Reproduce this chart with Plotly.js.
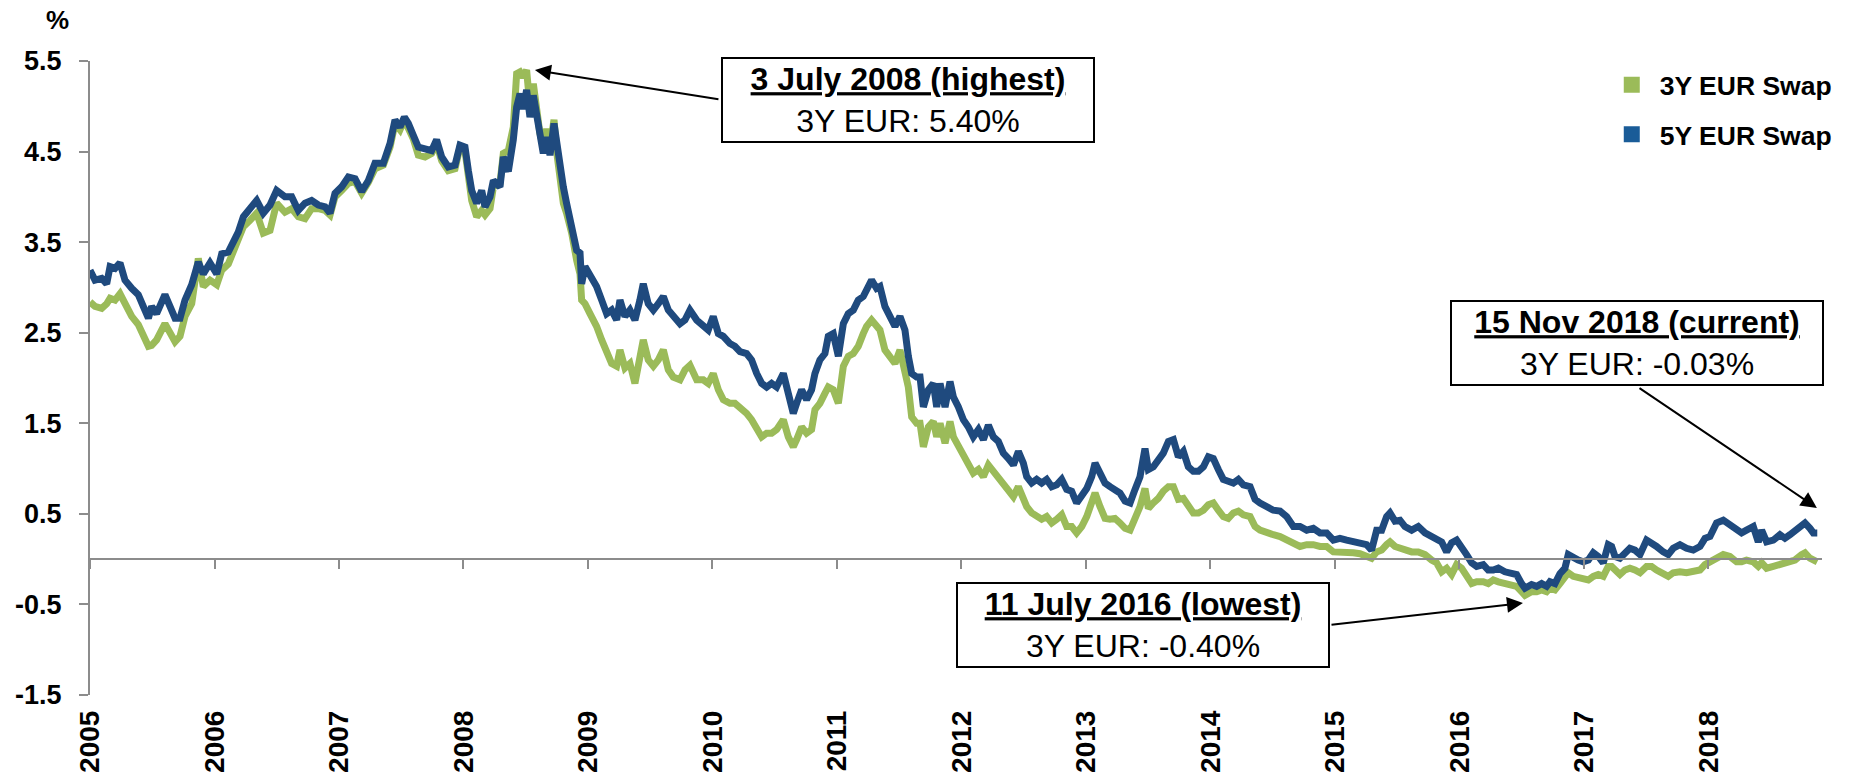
<!DOCTYPE html>
<html>
<head>
<meta charset="utf-8">
<script src="https://cdn.plot.ly/plotly-3.0.1.min.js"></script>
<style>html,body{margin:0;padding:0;background:#fff;}#chart{width:1854px;height:782px;}</style>
</head>
<body>
<div id="chart"></div>
<script>
// decimal-year positions of the readings
const years = [
2005.000,2005.040,2005.094,2005.134,2005.161,2005.201,2005.241,2005.281,2005.335,2005.388,2005.428,2005.469,2005.495,2005.535,2005.602,2005.643,2005.683,2005.723,2005.763,2005.817,2005.870,2005.910,2005.964,
2006.018,2006.058,2006.111,2006.151,2006.191,2006.232,2006.285,2006.339,2006.392,2006.446,2006.499,2006.566,2006.620,2006.673,2006.727,2006.780,2006.834,2006.888,2006.928,2006.968,
2007.021,2007.075,2007.129,2007.182,2007.236,2007.289,2007.356,2007.410,2007.450,2007.490,2007.525,2007.557,2007.597,2007.637,2007.691,2007.744,2007.784,2007.825,2007.878,2007.932,2007.972,
2008.012,2008.039,2008.066,2008.106,2008.146,2008.173,2008.213,2008.240,2008.293,2008.320,2008.360,2008.400,2008.427,2008.454,2008.480,2008.507,2008.534,2008.561,2008.588,2008.614,2008.641,2008.668,2008.695,2008.727,2008.754,2008.775,2008.802,2008.828,2008.869,2008.909,2008.936,2008.949,2008.976,
2009.016,2009.069,2009.110,2009.150,2009.190,2009.230,2009.257,2009.297,2009.337,2009.377,2009.417,2009.444,2009.484,2009.525,2009.565,2009.605,2009.645,2009.685,2009.739,2009.779,2009.819,2009.873,2009.926,2009.966,
2010.006,2010.047,2010.087,2010.140,2010.180,2010.221,2010.274,2010.314,2010.355,2010.395,2010.435,2010.475,2010.515,2010.569,2010.609,2010.649,2010.676,2010.716,2010.756,2010.796,2010.823,2010.863,2010.903,2010.930,2010.970,
2011.011,2011.051,2011.091,2011.131,2011.171,2011.211,2011.238,2011.278,2011.318,2011.345,2011.385,2011.425,2011.466,2011.506,2011.546,2011.573,2011.600,2011.640,2011.667,2011.694,2011.734,2011.774,2011.801,2011.828,2011.868,2011.908,2011.935,2011.975,
2012.015,2012.055,2012.095,2012.136,2012.176,2012.216,2012.256,2012.296,2012.336,2012.377,2012.417,2012.457,2012.497,2012.524,2012.564,2012.604,2012.644,2012.684,2012.725,2012.765,2012.805,2012.845,2012.885,2012.925,2012.966,
2013.006,2013.046,2013.073,2013.113,2013.153,2013.193,2013.233,2013.273,2013.314,2013.354,2013.394,2013.434,2013.474,2013.501,2013.541,2013.581,2013.621,2013.662,2013.702,2013.742,2013.782,2013.822,2013.862,2013.903,2013.943,2013.983,
2014.023,2014.063,2014.103,2014.143,2014.184,2014.224,2014.264,2014.318,2014.358,2014.398,2014.451,2014.505,2014.559,2014.612,2014.666,2014.719,2014.773,2014.826,2014.880,2014.933,2014.987,
2015.040,2015.094,2015.147,2015.201,2015.254,2015.294,2015.335,2015.375,2015.415,2015.442,2015.482,2015.522,2015.562,2015.616,2015.669,2015.723,2015.776,2015.816,2015.857,2015.897,2015.937,2015.977,
2016.017,2016.057,2016.098,2016.138,2016.191,2016.231,2016.272,2016.312,2016.365,2016.419,2016.459,2016.499,2016.526,2016.579,2016.620,2016.660,2016.700,2016.727,2016.767,2016.807,2016.847,2016.874,2016.914,2016.954,2016.994,
2017.035,2017.075,2017.115,2017.155,2017.195,2017.222,2017.249,2017.289,2017.329,2017.369,2017.409,2017.450,2017.503,2017.543,2017.583,2017.637,2017.677,2017.717,2017.771,2017.824,2017.878,2017.932,2017.972,
2018.012,2018.065,2018.119,2018.172,2018.226,2018.266,2018.306,2018.360,2018.400,2018.427,2018.467,2018.521,2018.574,2018.614,2018.655,2018.695,2018.748,2018.775,2018.815,2018.842,2018.874
];

// 5Y EUR Swap (%)
const swap5y = [
3.19,3.08,3.10,3.04,3.23,3.21,3.27,3.08,2.99,2.92,2.79,2.66,2.79,2.71,2.92,2.79,2.66,2.66,2.86,3.03,3.28,3.15,3.27,
3.15,3.37,3.39,3.49,3.61,3.78,3.87,3.96,3.82,3.91,4.07,4.00,4.00,3.85,3.93,3.96,3.91,3.89,3.82,4.04,
4.11,4.22,4.20,4.06,4.18,4.37,4.37,4.59,4.85,4.77,4.88,4.81,4.68,4.55,4.53,4.51,4.63,4.44,4.33,4.35,4.57,
4.55,4.29,4.07,3.93,4.07,3.89,4.00,4.18,4.11,4.44,4.28,4.63,4.99,5.14,4.97,5.18,4.88,5.12,4.88,4.63,4.48,4.66,4.46,4.81,4.51,4.33,4.11,3.93,3.67,3.41,3.38,3.04,3.23,
3.15,3.01,2.86,2.71,2.75,2.64,2.86,2.68,2.75,2.64,2.86,3.04,2.82,2.75,2.82,2.90,2.75,2.68,2.60,2.64,2.75,2.64,2.57,2.53,
2.68,2.49,2.46,2.38,2.35,2.29,2.27,2.20,2.05,1.94,1.90,1.94,1.90,2.05,1.83,1.61,1.72,1.87,1.76,1.87,2.05,2.20,2.27,2.46,2.49,
2.24,2.60,2.71,2.75,2.86,2.90,2.97,3.08,2.99,3.01,2.79,2.68,2.57,2.68,2.53,2.24,2.05,2.01,2.01,1.68,1.87,1.94,1.68,1.94,1.68,1.96,1.79,1.68,
1.54,1.46,1.35,1.43,1.32,1.48,1.35,1.30,1.17,1.11,1.04,1.19,1.06,0.91,0.84,0.88,0.84,0.88,0.80,0.82,0.88,0.77,0.75,0.62,0.69,
0.78,0.91,1.06,0.95,0.84,0.80,0.77,0.73,0.64,0.62,0.77,0.91,1.22,0.99,1.02,1.10,1.17,1.30,1.32,1.13,1.19,1.02,0.97,0.97,1.02,1.13,
1.11,0.99,0.88,0.86,0.84,0.88,0.82,0.80,0.66,0.62,0.58,0.54,0.53,0.47,0.36,0.36,0.32,0.34,0.29,0.29,0.21,
0.23,0.21,0.19,0.18,0.16,0.10,0.32,0.32,0.47,0.51,0.42,0.43,0.36,0.32,0.36,0.29,0.25,0.23,0.19,0.08,0.18,0.21,
0.14,0.05,-0.04,-0.08,-0.06,-0.12,-0.12,-0.10,-0.14,-0.16,-0.17,-0.27,-0.32,-0.28,-0.30,-0.27,-0.30,-0.25,-0.27,-0.16,-0.10,0.05,0.01,-0.01,-0.03,
-0.01,0.07,0.03,-0.04,0.16,0.14,0.03,0.01,0.08,0.12,0.10,0.05,0.21,0.18,0.14,0.08,0.05,0.12,0.16,0.12,0.10,0.14,0.23,
0.25,0.40,0.43,0.38,0.32,0.29,0.32,0.36,0.19,0.32,0.19,0.21,0.27,0.23,0.27,0.32,0.38,0.40,0.34,0.29,0.29
];

// 3Y EUR Swap (%)
const swap3y = [
2.84,2.79,2.77,2.82,2.88,2.86,2.93,2.82,2.68,2.59,2.49,2.35,2.36,2.42,2.60,2.49,2.40,2.46,2.68,2.82,3.32,3.01,3.08,
3.03,3.19,3.26,3.41,3.52,3.67,3.74,3.82,3.60,3.63,3.93,3.83,3.87,3.78,3.76,3.87,3.87,3.85,3.80,4.00,
4.07,4.15,4.17,4.04,4.16,4.31,4.35,4.55,4.81,4.74,4.85,4.77,4.64,4.46,4.44,4.48,4.59,4.40,4.29,4.31,4.55,
4.51,4.22,3.96,3.78,3.85,3.80,3.87,4.11,4.15,4.48,4.51,4.77,5.36,5.38,5.32,5.40,4.99,5.25,4.96,4.70,4.55,4.75,4.55,4.85,4.44,4.22,3.93,3.82,3.60,3.30,3.15,2.86,2.82,
2.71,2.57,2.42,2.27,2.16,2.13,2.31,2.11,2.16,1.94,2.20,2.42,2.20,2.13,2.20,2.31,2.09,2.01,1.98,2.09,2.14,1.98,1.98,1.94,
2.05,1.87,1.76,1.72,1.72,1.68,1.61,1.54,1.43,1.35,1.39,1.39,1.43,1.54,1.35,1.24,1.32,1.46,1.39,1.43,1.65,1.72,1.83,1.90,1.87,
1.72,2.13,2.24,2.27,2.35,2.49,2.57,2.64,2.57,2.53,2.31,2.24,2.16,2.31,2.05,1.90,1.57,1.50,1.50,1.24,1.46,1.52,1.35,1.50,1.28,1.52,1.35,1.24,
1.13,1.06,0.95,0.99,0.91,1.04,0.97,0.91,0.82,0.77,0.69,0.80,0.66,0.58,0.51,0.47,0.44,0.47,0.40,0.44,0.49,0.36,0.36,0.29,0.36,
0.47,0.62,0.73,0.58,0.45,0.44,0.45,0.40,0.34,0.32,0.44,0.58,0.78,0.56,0.62,0.67,0.75,0.80,0.80,0.66,0.67,0.58,0.51,0.51,0.54,0.60,
0.62,0.54,0.47,0.45,0.51,0.53,0.49,0.47,0.36,0.32,0.29,0.27,0.25,0.21,0.16,0.14,0.16,0.16,0.14,0.14,0.08,
0.08,0.08,0.07,0.06,0.04,0.01,0.08,0.10,0.16,0.19,0.14,0.12,0.10,0.08,0.08,0.05,-0.01,-0.04,-0.14,-0.10,-0.17,-0.06,
-0.10,-0.19,-0.27,-0.25,-0.25,-0.27,-0.23,-0.25,-0.27,-0.28,-0.30,-0.36,-0.40,-0.36,-0.36,-0.34,-0.36,-0.32,-0.34,-0.27,-0.21,-0.15,-0.19,-0.21,-0.21,
-0.23,-0.19,-0.17,-0.19,-0.08,-0.08,-0.12,-0.17,-0.12,-0.10,-0.12,-0.15,-0.08,-0.08,-0.12,-0.15,-0.19,-0.15,-0.14,-0.15,-0.14,-0.12,-0.06,
-0.03,0.03,0.05,0.03,-0.03,-0.03,-0.01,-0.03,-0.08,-0.04,-0.10,-0.08,-0.06,-0.06,-0.03,-0.01,0.05,0.07,0.01,-0.01,-0.03
];

const seriesNames = ['3Y EUR Swap', '5Y EUR Swap'];
const yearTicks = [2005,2006,2007,2008,2009,2010,2011,2012,2013,2014,2015,2016,2017,2018];
const yearLabels = ['2005','2006','2007','2008','2009','2010','2011','2012','2013','2014','2015','2016','2017','2018'];
const yTickVals = [5.5,4.5,3.5,2.5,1.5,0.5,-0.5,-1.5];
const yTickLabels = ['5.5','4.5','3.5','2.5','1.5','0.5','-0.5','-1.5'];

// callouts: box text, box centre (year, value), arrow tail (year, value), arrow tip (year, value)
const callouts = [
  {title:'3 July 2008 (highest)', line:'3Y EUR: 5.40%', bx:2011.570, by:5.066, tx:2010.06, ty:5.074, hx:2008.574, hy:5.40},
  {title:'15 Nov 2018 (current)', line:'3Y EUR: -0.03%', bx:2017.426, by:2.386, tx:2017.434, ty:1.90, hx:2018.871, hy:0.566},
  {title:'11 July 2016 (lowest)', line:'3Y EUR: -0.40%', bx:2013.458, by:-0.725, tx:2014.960, ty:-0.725, hx:2016.510, hy:-0.485}
];

const FONT = 'Liberation Sans, Arial, Helvetica, sans-serif';
const GREEN = '#9BBB59';
const BLUE = '#1F4A7E';
const BLUE_LEG = '#1A5C98';
const AXIS = '#8C8C8C';
const xRange = [2005, 2018.912];

const traces = [
  {x: years, y: swap3y, type:'scatter', mode:'lines', name: seriesNames[0], showlegend:false,
   legendgroup:'a', line:{color:GREEN, width:7}, hoverinfo:'x+y'},
  {x: years, y: swap5y, type:'scatter', mode:'lines', name: seriesNames[1], showlegend:false,
   legendgroup:'b', line:{color:BLUE, width:7}, hoverinfo:'x+y'},
  {x:[null], y:[null], type:'scatter', mode:'markers', name: seriesNames[0], legendgroup:'a',
   marker:{symbol:'square', size:16, color:GREEN}},
  {x:[null], y:[null], type:'scatter', mode:'markers', name: seriesNames[1], legendgroup:'b',
   marker:{symbol:'square', size:16, color:BLUE_LEG}},
  {x:[xRange[0]], y:[null], xaxis:'x2', type:'scatter', mode:'markers', showlegend:false, hoverinfo:'skip'}
];

const annotations = [];
callouts.forEach(c => {
  annotations.push({
    xref:'x', yref:'y', x:c.hx, y:c.hy, axref:'x', ayref:'y', ax:c.tx, ay:c.ty,
    text:'', showarrow:true, arrowhead:2, arrowsize:1.6, arrowwidth:2, arrowcolor:'#000',
    standoff:0, startstandoff:0
  });
  annotations.push({
    xref:'x', yref:'y', x:c.bx, y:c.by, xanchor:'center', yanchor:'middle',
    text:'<b><u>' + c.title + '</u></b><br>' + c.line, showarrow:false,
    font:{family:FONT, size:32, color:'#000'}, align:'center', valign:'middle',
    width:370, height:82, borderpad:0, borderwidth:2, bordercolor:'#000', bgcolor:'#fff'
  });
});
annotations.push({
  xref:'paper', yref:'paper', x:-0.0185, y:1.064, xanchor:'center', yanchor:'middle',
  text:'<b>%</b>', showarrow:false, font:{family:FONT, size:26, color:'#000'}
});

const layout = {
  width:1854, height:782, autosize:false,
  margin:{l:90, r:32, t:61, b:87, pad:0},
  paper_bgcolor:'#fff', plot_bgcolor:'#fff',
  font:{family:FONT, color:'#000'},
  showlegend:true,
  legend:{x:0.874, xanchor:'left', y:1.0, yanchor:'top', bgcolor:'rgba(0,0,0,0)',
          font:{family:FONT, size:26.5, color:'#000', weight:'bold'},
          itemwidth:46, tracegroupgap:12, traceorder:'grouped'},
  xaxis:{type:'linear', range:xRange, tickvals:yearTicks, ticktext:yearLabels, tickangle:-90,
         showline:false, ticks:'', showgrid:false, zeroline:false, ticklabelstandoff:9,
         tickfont:{family:FONT, size:28, color:'#000', weight:'bold'}},
  xaxis2:{type:'linear', overlaying:'x', anchor:'free', position:1.5/7, side:'bottom', range:xRange,
          tickvals:yearTicks, showticklabels:false, ticks:'outside', ticklen:9, tickwidth:2, tickcolor:AXIS,
          showline:true, linecolor:AXIS, linewidth:2, showgrid:false, zeroline:false},
  yaxis:{range:[-1.5, 5.5], tickvals:yTickVals, ticktext:yTickLabels, showline:true, linecolor:AXIS,
         linewidth:2, ticks:'outside', ticklen:9, tickwidth:2, tickcolor:AXIS, showgrid:false,
         zeroline:false, ticklabelstandoff:12,
         tickfont:{family:FONT, size:27, color:'#000', weight:'bold'}},
  annotations: annotations
};

Plotly.newPlot('chart', traces, layout, {displayModeBar:false, staticPlot:true});
</script>
</body>
</html>
